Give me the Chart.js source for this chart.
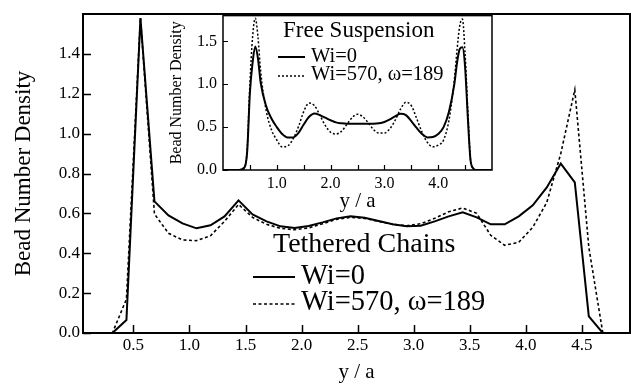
<!DOCTYPE html>
<html><head><meta charset="utf-8">
<script src="https://cdn.jsdelivr.net/npm/chart.js@4"></script>
<style>
html,body{margin:0;padding:0;background:#fff;}
#wrap{position:relative;width:631px;height:385px;overflow:hidden;}
#main{position:absolute;left:0;top:0;}
#inset{position:absolute;left:150px;top:0;}
</style></head><body>
<div id="wrap"><canvas id="main" width="631" height="385"></canvas><canvas id="inset" width="350" height="215"></canvas></div>
<script>
// ---- main plot: tethered chains ----
const mainX = [0.0625,0.1875,0.3125,0.4375,0.5625,0.6875,0.8125,0.9375,1.0625,1.1875,1.3125,1.4375,1.5625,1.6875,1.8125,1.9375,2.0625,2.1875,2.3125,2.4375,2.5625,2.6875,2.8125,2.9375,3.0625,3.1875,3.3125,3.4375,3.5625,3.6875,3.8125,3.9375,4.0625,4.1875,4.3125,4.4375,4.5625,4.6875,4.8125,4.9375];
const mainWi0 = [0,0,0,0.065,1.58,0.66,0.59,0.55,0.525,0.54,0.585,0.665,0.595,0.56,0.535,0.527,0.537,0.555,0.575,0.585,0.578,0.562,0.545,0.535,0.538,0.56,0.585,0.605,0.58,0.545,0.545,0.585,0.64,0.73,0.85,0.755,0.083,0,0,0];
const mainWi570 = [0,0,0,0.17,1.58,0.597,0.50,0.467,0.463,0.488,0.56,0.645,0.58,0.545,0.525,0.518,0.527,0.548,0.57,0.58,0.575,0.56,0.545,0.538,0.548,0.575,0.608,0.627,0.60,0.49,0.44,0.455,0.53,0.655,0.90,1.22,0.43,0,0,0];
const mainXTicks = [0.5,1.0,1.5,2.0,2.5,3.0,3.5,4.0,4.5];
const mainYTicks = [0.0,0.2,0.4,0.6,0.8,1.0,1.2,1.4];

// ---- inset: free suspension ----
const insetX = [0,0.1,0.2,0.3,0.4,0.45,0.5,0.55,0.6,0.65,0.7,0.8,0.9,1.0,1.1,1.2,1.3,1.4,1.5,1.6,1.7,1.8,1.9,2.0,2.1,2.2,2.3,2.4,2.5,2.6,2.7,2.8,2.9,3.0,3.1,3.2,3.3,3.4,3.5,3.6,3.7,3.8,3.9,4.0,4.1,4.2,4.3,4.35,4.4,4.45,4.5,4.55,4.6,4.65,4.7,4.8,4.9,5.0];
const insetWi0 = [0,0,0,0,0.03,0.22,0.90,1.25,1.44,1.30,1.02,0.75,0.60,0.50,0.42,0.38,0.38,0.43,0.53,0.62,0.66,0.64,0.61,0.58,0.555,0.545,0.54,0.54,0.54,0.54,0.54,0.54,0.545,0.56,0.59,0.625,0.655,0.64,0.57,0.49,0.42,0.38,0.385,0.42,0.50,0.68,1.00,1.25,1.41,1.43,1.20,0.62,0.12,0.02,0,0,0,0];
const insetWi570 = [0,0,0,0,0.03,0.25,1.00,1.55,1.77,1.55,1.15,0.70,0.47,0.35,0.27,0.28,0.36,0.50,0.68,0.78,0.75,0.64,0.52,0.44,0.42,0.45,0.53,0.61,0.65,0.62,0.55,0.47,0.43,0.43,0.48,0.58,0.71,0.79,0.75,0.60,0.44,0.32,0.27,0.29,0.35,0.58,1.05,1.40,1.68,1.76,1.35,0.70,0.12,0.02,0,0,0,0];
const insetXTicks = [0.5,1.0,1.5,2.0,2.5,3.0,3.5,4.0,4.5];
const insetYTicks = [0.0,0.5,1.0,1.5];

const FONT = "'Liberation Serif', 'DejaVu Serif', serif";
Chart.defaults.font.family = FONT;
Chart.defaults.color = '#000';

function pts(xs, ys){ return xs.map((x,i)=>({x:x, y:ys[i]})); }

const framePlugin = {
  id: 'frame',
  afterDatasetsDraw(chart, args, o){
    const {ctx, chartArea:a, scales:{x, y}} = chart;
    ctx.save();
    ctx.strokeStyle = '#000';
    ctx.lineWidth = o.lw;
    ctx.strokeRect(a.left, a.top, a.right - a.left, a.bottom - a.top);
    ctx.beginPath();
    x.ticks.forEach(t => { const px = Math.round(x.getPixelForValue(t.value)) + 0.5; ctx.moveTo(px, a.bottom); ctx.lineTo(px, a.bottom - o.tl); });
    y.ticks.forEach(t => { const py = Math.round(y.getPixelForValue(t.value)) + 0.5; ctx.moveTo(a.left, py); ctx.lineTo(a.left + o.tl, py); });
    ctx.lineWidth = o.tw;
    ctx.stroke();
    ctx.restore();
  }
};

const legendPlugin = {
  id: 'textlegend',
  afterDraw(chart, args, o){
    if (!o.items) return;
    const ctx = chart.ctx;
    ctx.save();
    ctx.fillStyle = '#000';
    ctx.strokeStyle = '#000';
    ctx.textBaseline = 'alphabetic';
    o.items.forEach(it => {
      ctx.font = it.size + 'px ' + FONT;
      ctx.fillText(it.text, it.x, it.y);
      if (it.line) {
        ctx.beginPath();
        ctx.lineWidth = it.line.w;
        ctx.setLineDash(it.line.dash || []);
        ctx.moveTo(it.line.x0, it.line.y); ctx.lineTo(it.line.x1, it.line.y);
        ctx.stroke();
        ctx.setLineDash([]);
      }
    });
    ctx.restore();
  }
};

const mainTitle = 'Tethered Chains';
const insetTitle = 'Free Suspension';
const seriesNames = ['Wi=0', 'Wi=570, \u03c9=189'];

new Chart(document.getElementById('main'), {
  type: 'line',
  data: { datasets: [
    { label: seriesNames[0], data: pts(mainX, mainWi0), borderColor:'#000', borderWidth:2, pointRadius:0, tension:0, fill:false },
    { label: seriesNames[1], data: pts(mainX, mainWi570), borderColor:'#000', borderWidth:1.6, borderDash:[3,2.5], pointRadius:0, tension:0, fill:false }
  ]},
  options: {
    responsive:false, animation:false, devicePixelRatio:1,
    layout:{ padding:{ left:0, right:1, top:14, bottom:0 } },
    plugins:{
      legend:{display:false}, tooltip:{enabled:false},
      frame:{ lw:2, tl:8, tw:1.5 },
      textlegend:{ items:[
        { text: mainTitle, size:28, x:273, y:252 },
        { text: seriesNames[0], size:28.5, x:301, y:284, line:{x0:253, x1:295, y:277, w:2} },
        { text: seriesNames[1], size:28.5, x:301, y:310, line:{x0:253, x1:295, y:304, w:1.6, dash:[3,2.5]} }
      ]}
    },
    scales:{
      x:{ type:'linear', min:0.05, max:4.93,
        afterBuildTicks: s => { s.ticks = mainXTicks.map(v=>({value:v})); },
        afterFit: s => { s.height = 52; },
        grid:{ display:false, drawTicks:false }, border:{ display:false },
        ticks:{ padding:2, font:{size:17}, callback: v => v.toFixed(1), maxRotation:0, autoSkip:false },
        title:{ display:true, text:'y / a', font:{size:21}, padding:{top:0,bottom:0} }
      },
      y:{ type:'linear', min:0, max:1.6,
        afterBuildTicks: s => { s.ticks = mainYTicks.map(v=>({value:v})); },
        afterFit: s => { s.width = 83; },
        grid:{ display:false, drawTicks:false }, border:{ display:false },
        ticks:{ padding:3, font:{size:17}, callback: v => v.toFixed(1), autoSkip:false },
        title:{ display:true, text:'Bead Number Density', font:{size:23}, padding:{top:10,bottom:0} }
      }
    }
  },
  plugins:[framePlugin, legendPlugin]
});

new Chart(document.getElementById('inset'), {
  type: 'line',
  data: { datasets: [
    { label: seriesNames[0], data: pts(insetX, insetWi0), borderColor:'#000', borderWidth:2, pointRadius:0, cubicInterpolationMode:'monotone', fill:false },
    { label: seriesNames[1], data: pts(insetX, insetWi570), borderColor:'#000', borderWidth:1.5, borderDash:[2,2], pointRadius:0, cubicInterpolationMode:'monotone', fill:false }
  ]},
  options: {
    responsive:false, animation:false, devicePixelRatio:1,
    layout:{ padding:{ left:0, right:8, top:14, bottom:0 } },
    plugins:{
      legend:{display:false}, tooltip:{enabled:false},
      frame:{ lw:1.5, tl:5, tw:1.2 },
      textlegend:{ items:[
        { text: insetTitle, size:23, x:283-150, y:37 },
        { text: seriesNames[0], size:20.5, x:311-150, y:62, line:{x0:278-150, x1:305-150, y:57, w:2} },
        { text: seriesNames[1], size:20.5, x:311-150, y:80, line:{x0:278-150, x1:305-150, y:76, w:1.5, dash:[2,2]} }
      ]}
    },
    scales:{
      x:{ type:'linear', min:0, max:5.0,
        afterBuildTicks: s => { s.ticks = insetXTicks.map(v=>({value:v})); },
        afterFit: s => { s.height = 45; },
        grid:{ display:false, drawTicks:false }, border:{ display:false },
        ticks:{ padding:4, font:{size:16}, callback: v => (Math.abs(v - Math.round(v)) < 1e-9 ? v.toFixed(1) : ''), maxRotation:0, autoSkip:false },
        title:{ display:true, text:'y / a', font:{size:21}, padding:{top:0,bottom:1} }
      },
      y:{ type:'linear', min:0, max:1.8,
        afterBuildTicks: s => { s.ticks = insetYTicks.map(v=>({value:v})); },
        afterFit: s => { s.width = 73; },
        grid:{ display:false, drawTicks:false }, border:{ display:false },
        ticks:{ padding:6, font:{size:16}, callback: v => v.toFixed(1), autoSkip:false },
        title:{ display:true, text:'Bead Number Density', font:{size:16}, padding:{top:17,bottom:0} }
      }
    }
  },
  plugins:[framePlugin, legendPlugin]
});
</script>
</body></html>
